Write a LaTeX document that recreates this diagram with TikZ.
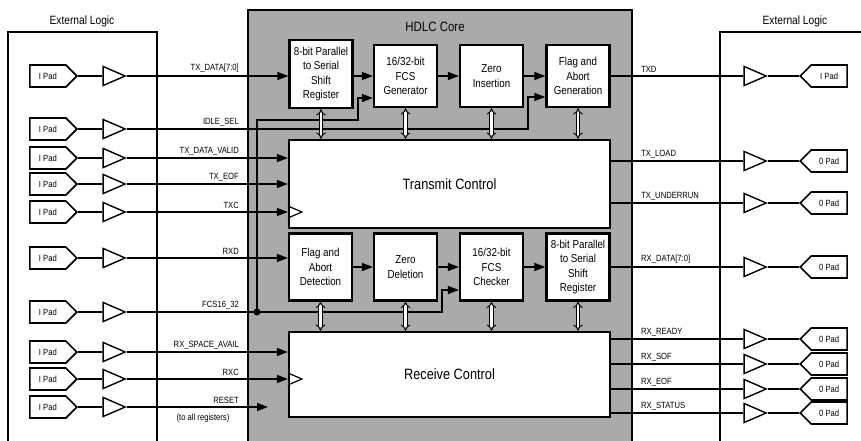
\documentclass[tikz,border=0pt]{standalone}
\usepackage{fontspec}
\setmainfont{Liberation Sans}[FakeStretch=0.85]
\usetikzlibrary{arrows.meta,shapes.geometric,shapes.symbols}
\definecolor{core-gray}{RGB}{170,170,170}
\tikzset{
	blk/.style={draw, line width=2.2pt, fill=white, minimum width=63pt, minimum height=62pt, inner sep=0pt, align=center, font=\fontsize{11.5}{14.5}\selectfont},
	ctl/.style={draw, line width=2.2pt, fill=white, minimum width=321pt, minimum height=88pt, inner sep=0pt, font=\fontsize{15}{18}\selectfont},
	ipad/.style={draw, line width=1.6pt, fill=white, signal, signal to=east, signal pointer angle=90, minimum width=47pt, minimum height=22pt, inner sep=0pt, font=\fontsize{9}{10}\selectfont},
	opad/.style={ipad, signal to=west},
	buf/.style={draw, line width=1.4pt, fill=white, isosceles triangle, isosceles triangle stretches, minimum width=19pt, minimum height=22pt, inner sep=0pt},
	lbl/.style={font=\fontsize{9}{10}\selectfont, inner sep=1pt},
	ttl/.style={font=\fontsize{12}{14}\selectfont},
	sig/.style={line width=1.4pt},
	frame/.style={line width=1.8pt},
	hsk/.style={line width=0.9pt, double=white, double distance=2.4pt, {Implies}-{Implies}},
	>={Triangle[length=11pt,width=8pt]}
}
\begin{document}
\begin{tikzpicture}[x=1pt, y=-1pt]
\useasboundingbox (0,0) rectangle (861,441);

% outer frames
\draw[frame] (8,445) -- (8,32) -- (157,32) -- (157,445);
\draw[frame] (720,445) -- (720,32) -- (865,32);
\draw[frame, fill=core-gray] (248,445) -- (248,10) -- (632,10) -- (632,445);
\node[ttl] (extl) at (82,21) {External Logic};
\node[ttl] (extr) at (795,21) {External Logic};
\node[ttl, font=\fontsize{13.5}{15}\selectfont] (core) at (435,27) {HDLC Core};

% transmit path
\node[blk, minimum height=68pt] (txsr) at (321,74) {8-bit Parallel\\to Serial\\Shift\\Register};
\node[blk] (fcsgen) at (405.5,76) {16/32-bit\\FCS\\Generator};
\node[blk] (zins) at (491.5,76) {Zero\\Insertion};
\node[blk] (flaggen) at (578,76) {Flag and\\Abort\\Generation};
\node[ctl] (txctl) at (449.5,184) {Transmit Control};

% receive path
\node[blk, minimum height=67pt] (flagdet) at (320.5,267) {Flag and\\Abort\\Detection};
\node[blk, minimum height=67pt] (zdel) at (405.5,267) {Zero\\Deletion};
\node[blk, minimum height=67pt] (fcschk) at (491.5,267) {16/32-bit\\FCS\\Checker};
\node[blk, minimum height=67pt] (rxsr) at (578,267) {8-bit Parallel\\to Serial\\Shift\\Register};
\node[ctl, minimum height=85pt] (rxctl) at (449.5,374.5) {Receive Control};

\draw[sig,->] (txsr.east |- fcsgen.west) -- (fcsgen.west);
\draw[sig,->] (fcsgen) -- (zins);
\draw[sig,->] (zins) -- (flaggen);
\draw[sig,->] (flagdet) -- (zdel);
\draw[sig,->] (zdel) -- (fcschk);
\draw[sig,->] (fcschk) -- (rxsr);

% left side inputs
\foreach \n/\y/\t in {TxData/76/TX\_DATA[7:0], Idle/129/IDLE\_SEL, TxValid/158/TX\_DATA\_VALID,
	TxEof/184/TX\_EOF, Txc/212/TXC, Rxd/258/RXD, Fcs/312/FCS16\_32,
	RxAvail/352/RX\_SPACE\_AVAIL, Rxc/379/RXC, Reset/407/RESET}{
	\node[ipad, anchor=east] (p\n) at (78,\y) {I Pad};
	\node[buf, anchor=apex] (b\n) at (127,\y) {};
	\draw[sig] (p\n.east) -- (b\n.lower side);
	\node[lbl, anchor=south east] (l\n) at (240,\y-2) {\t};
}
\node[lbl] (lAll) at (203,418) {(to all registers)};

\coordinate (idlebend) at (528,97);
\coordinate (fcsdot) at (257,312);
\coordinate (fcsup) at (257,120);
\coordinate (gensel) at (358,98);
\coordinate (chksel) at (442,290);
\coordinate (rstend) at (268,407);

\draw[sig,->] (bTxData.apex) -- (txsr.west |- bTxData.apex);
\draw[sig,->] (bIdle.apex) -| (idlebend) -- (flaggen.west |- idlebend);
\foreach \n in {TxValid, TxEof, Txc}
	\draw[sig,->] (b\n.apex) -- (txctl.west |- b\n.apex);
\draw[sig,->] (bRxd.apex) -- (flagdet.west |- bRxd.apex);
\draw[sig,->] (bFcs.apex) -- (fcsdot) -| (chksel) -- (fcschk.west |- chksel);
\draw[sig,->] (fcsdot) -- (fcsup) -| (gensel) -- (fcsgen.west |- gensel);
\fill (fcsdot) circle (3.5pt);
\foreach \n in {RxAvail, Rxc}
	\draw[sig,->] (b\n.apex) -- (rxctl.west |- b\n.apex);
\draw[sig,->] (bReset.apex) -- (rstend);

% clock inputs
\draw[line width=1.2pt] (txctl.west |- bTxc.apex) ++(0,-6) -- ++(14,6) -- ++(-14,6);
\draw[line width=1.2pt] (rxctl.west |- bRxc.apex) ++(0,-6) -- ++(14,6) -- ++(-14,6);

% right side outputs
\foreach \n/\y/\t/\s/\l in {Txd/76/I Pad/flaggen/TXD, TxLoad/161/0 Pad/txctl/TX\_LOAD,
	TxUnder/203/0 Pad/txctl/TX\_UNDERRUN, RxData/267/0 Pad/rxsr/RX\_DATA[7:0],
	RxReady/339/0 Pad/rxctl/RX\_READY, RxSof/364/0 Pad/rxctl/RX\_SOF,
	RxEof/389/0 Pad/rxctl/RX\_EOF, RxStatus/413/0 Pad/rxctl/RX\_STATUS}{
	\node[buf, anchor=apex] (b\n) at (768,\y) {};
	\node[opad, anchor=west] (p\n) at (799,\y) {\t};
	\draw[sig] (\s.east |- b\n.lower side) -- (b\n.lower side);
	\draw[sig] (b\n.apex) -- (p\n.west);
	\node[lbl, anchor=south west] (l\n) at (640,\y-2) {\l};
}

% block to control handshakes
\foreach \b in {txsr, fcsgen, zins, flaggen}
	\draw[hsk] (\b.south) -- (\b.south |- txctl.north);
\foreach \b in {flagdet, zdel, fcschk, rxsr}
	\draw[hsk] (\b.south) -- (\b.south |- rxctl.north);
\end{tikzpicture}
\end{document}
